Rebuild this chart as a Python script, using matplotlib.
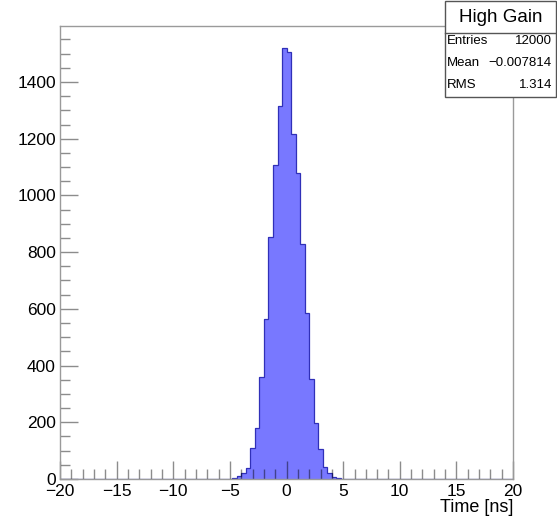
import numpy as np
import matplotlib
matplotlib.use("Agg")
from matplotlib import pyplot as plt
from matplotlib.ticker import MultipleLocator
from matplotlib.patches import Rectangle

# histogram: 100 bins of 0.4 ns from -20 to 20, only bins from -5.2 to 4.8 are filled
x_min, x_max, n_bins = -20, 20, 100
first_filled = -5.2
filled_counts = [1, 3, 9, 20, 38, 108, 180, 360, 563, 855, 1107, 1316, 1521,
                 1507, 1216, 1079, 829, 586, 351, 198, 104, 41, 20, 6, 2]

title = "High Gain"
stat_names = ["Entries", "Mean", "RMS"]
stat_values = ["12000", "\u22120.007814", "1.314"]
x_label = "Time [ns]"

edges = np.linspace(x_min, x_max, n_bins + 1)
counts = np.zeros(n_bins)
start = int(round((first_filled - x_min) / (edges[1] - edges[0])))
counts[start:start + len(filled_counts)] = filled_counts

plt.rcParams['font.family'] = ['Liberation Sans', 'DejaVu Sans']

fig = plt.figure(figsize=(5.57, 5.22), dpi=100)
ax = fig.add_axes([0.108, 0.0825, 0.813, 0.8675])

ax.stairs(counts, edges, fill=True, facecolor="#7878ff", edgecolor="none")
ax.stairs(counts, edges, fill=False, color="#3030b8", linewidth=0.9)

ax.set_xlim(x_min, x_max)
ax.set_ylim(0, 1.05 * counts.max())

ax.xaxis.set_major_locator(MultipleLocator(5))
ax.xaxis.set_minor_locator(MultipleLocator(1))
ax.yaxis.set_major_locator(MultipleLocator(200))
ax.yaxis.set_minor_locator(MultipleLocator(50))

tick_col = (0, 0, 0, 0.45)
ax.tick_params(which="major", direction="in", length=13, width=1.0, color=tick_col,
               labelsize=12.5, top=False, right=False)
ax.tick_params(axis="x", which="major", pad=4)
ax.tick_params(axis="y", which="major", pad=3)
ax.tick_params(which="minor", direction="in", length=7, width=1.0, color=tick_col,
               top=False, right=False)
for s in ax.spines.values():
    s.set_color("#9a9a9a")
    s.set_linewidth(1.0)

ax.set_xlabel(x_label, fontsize=13, loc="right", labelpad=0)

# stats box in the top right corner
bx0, by0 = 445 / 557, 1 - 97 / 522
bw, bh = 1 - bx0 - 0.001, 97 / 522 - 0.001
hb = 1 - 33 / 522
fig.patches.append(Rectangle((bx0, by0), bw, bh, transform=fig.transFigure,
                             facecolor="white", edgecolor="#555555", linewidth=1.0))
fig.lines.append(plt.Line2D([bx0, bx0 + bw], [hb, hb], transform=fig.transFigure,
                            color="#555555", linewidth=1.0))
fig.text(bx0 + bw / 2, (1 + hb) / 2 - 0.002, title, ha="center", va="center", fontsize=13.5)
row_y = [1 - 41 / 522, 1 - 63 / 522, 1 - 85 / 522]
for name, val, yy in zip(stat_names, stat_values, row_y):
    fig.text(bx0 + 0.004, yy, name, ha="left", va="center", fontsize=9.5)
    fig.text(bx0 + bw - 0.008, yy, val, ha="right", va="center", fontsize=9.5)

fig.savefig("out.png", dpi=100)
